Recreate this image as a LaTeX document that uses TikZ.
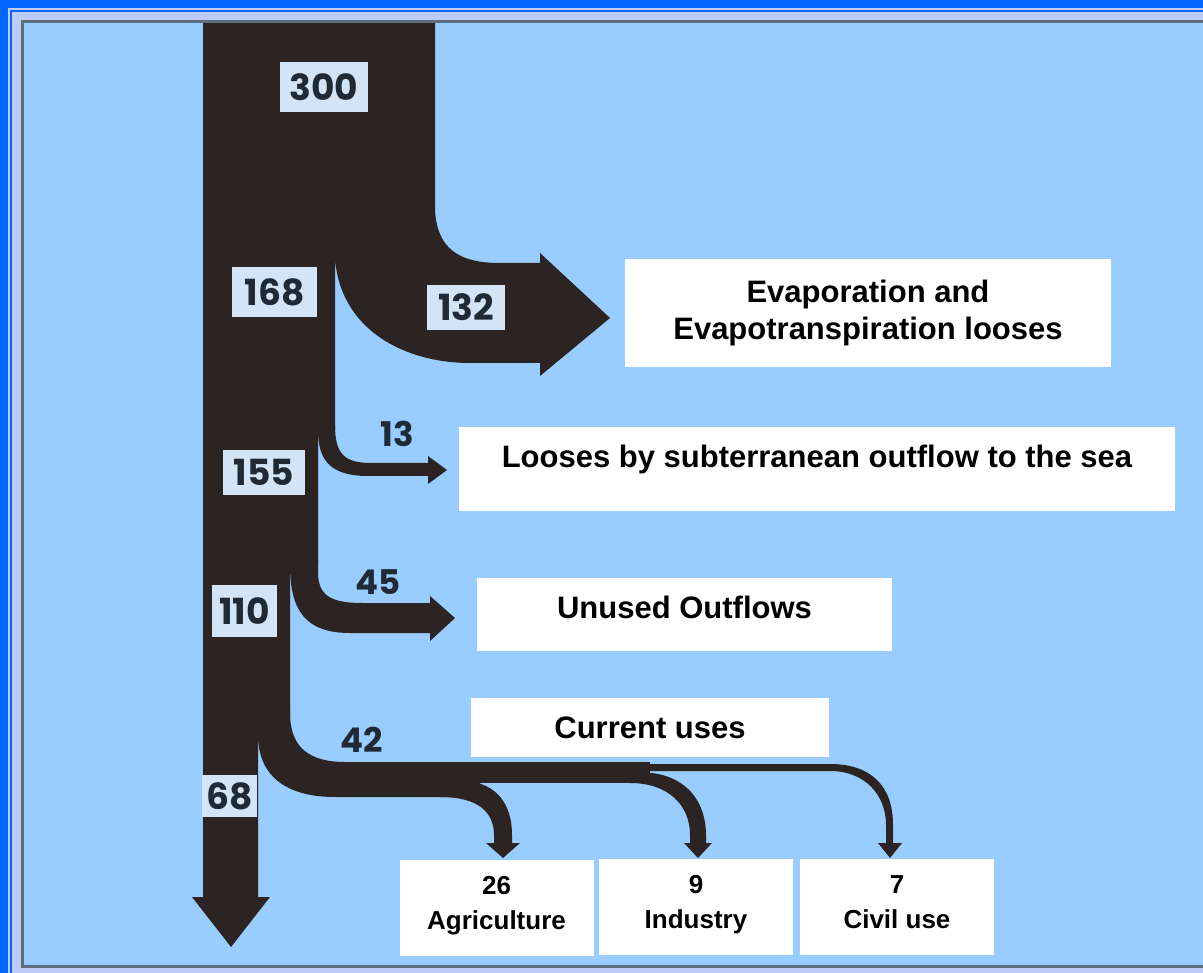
\documentclass[tikz,border=0pt]{standalone}
\usepackage{fontspec}
\setmainfont{Liberation Sans}
\newfontfamily\numfont{Poppins}
\definecolor{frameblue}{HTML}{0066FF}
\definecolor{framepale}{HTML}{BCCBF8}
\definecolor{bgblue}{HTML}{99CCFF}
\definecolor{rimgray}{HTML}{5E6E7E}
\definecolor{flowdark}{HTML}{2B2422}
\definecolor{numpale}{HTML}{D2E4F6}
\definecolor{numink}{HTML}{1F2A36}

\begin{document}
\begin{tikzpicture}[x=1pt, y=-1pt]
        % Define styles
        \tikzstyle{flow}=[fill=flowdark, draw=none]
        \tikzstyle{numbox}=[fill=numpale, inner sep=0pt, text=numink, font=\numfont\bfseries\fontsize{36}{40}\selectfont]
        \tikzstyle{numfree}=[inner sep=0pt, text=numink, font=\numfont\bfseries\fontsize{34}{40}\selectfont]
        \tikzstyle{whitebox}=[fill=white, inner sep=0pt, align=center, font=\bfseries\fontsize{31}{37}\selectfont]
        \tikzstyle{usebox}=[whitebox, minimum width=194pt, minimum height=96pt, font=\bfseries\fontsize{26}{35}\selectfont]

        % Frame and background
        \useasboundingbox (0,0) rectangle (1203,973);
        \fill[frameblue] (0,0) rectangle (1203,973);
        \fill[framepale] (8,8) rectangle (1203,973);
        \fill[frameblue] (10,10) rectangle (1203,973);
        \fill[framepale] (12,12) rectangle (1203,973);
        \fill[bgblue] (22,22) rectangle (1203,966);

        % Main stream with evaporation branch
        \fill[flow] (203,23) -- (435,23) -- (435,210)
            .. controls (437,248) and (458,263) .. (500,263) -- (540,263) -- (540,253)
            -- (610,318) -- (540,376) -- (540,363) -- (470,363)
            .. controls (405,363) and (340,330) .. (335,258)
            -- (335,430) -- (318,430) -- (318,565) -- (290,565) -- (290,737)
            -- (258,737) -- (258,897) -- (270,897) -- (231,947) -- (192,897) -- (203,897) -- cycle;

        % Subterranean outflow
        \fill[flow] (318,425) -- (335,425) .. controls (335,455) and (345,463) .. (372,463)
            -- (428,463) -- (428,456) -- (447,470) -- (428,484) -- (428,476) -- (368,476)
            .. controls (330,476) and (318,460) .. (318,430) -- cycle;

        % Unused outflows
        \fill[flow] (290,560) -- (318,560) -- (318,572) .. controls (318,595) and (330,603) .. (362,603)
            -- (430,603) -- (430,596) -- (455,618) -- (430,641) -- (430,633) -- (350,633)
            .. controls (305,633) and (290,610) .. (290,565) -- cycle;

        % Current uses
        \fill[flow] (258,705) -- (290,705) -- (290,713) .. controls (290,748) and (310,762) .. (345,762)
            -- (480,762) -- (480,797) -- (335,797) .. controls (285,797) and (258,775) .. (258,735) -- cycle;
        \fill[flow] (470,762) rectangle (650,783);
        \fill[flow] (430,790) -- (478,783) .. controls (502,790) and (512,810) .. (512,835)
            -- (512,843) -- (520,843) -- (503,858) -- (486,843) -- (494,843) -- (494,835)
            .. controls (494,812) and (478,797) .. (440,797) -- cycle;
        \fill[flow] (620,775) -- (652,773) .. controls (690,778) and (706,805) .. (706,835)
            -- (706,843) -- (712,843) -- (698,858) -- (684,843) -- (690,843) -- (690,835)
            .. controls (690,805) and (668,783) .. (630,783) -- cycle;
        \fill[flow] (640,764) -- (830,764) .. controls (870,764) and (893,785) .. (893,825)
            -- (893,843) -- (902,843) -- (890,858) -- (878,843) -- (886,843) -- (886,825)
            .. controls (886,795) and (865,771) .. (830,771) -- (640,771) -- cycle;

        % Rim line
        \draw[rimgray, line width=3pt] (1203,22) -- (22,22) -- (22,966) -- (1203,966);

        % Quantities
        \node[numbox, minimum width=88pt, minimum height=50pt] (n300) at (324,87) {300};
        \node[numbox, minimum width=85pt, minimum height=50pt] (n168) at (274.5,292) {168};
        \node[numbox, minimum width=78pt, minimum height=45pt] (n132) at (466,307.5) {132};
        \node[numbox, minimum width=82pt, minimum height=45pt] (n155) at (264,472.5) {155};
        \node[numbox, minimum width=65pt, minimum height=52pt] (n110) at (244.5,611) {110};
        \node[numbox, minimum width=55pt, minimum height=42pt] (n68) at (229.5,796) {68};
        \node[numfree] (n13) at (397,434) {13};
        \node[numfree] (n45) at (378,582) {45};
        \node[numfree] (n42) at (362,740) {42};

        % Destinations
        \node[whitebox, minimum width=486pt, minimum height=108pt] (evap) at (868,313) {Evaporation and\\Evapotranspiration looses};
        \node[whitebox, minimum width=716pt, minimum height=84pt, text depth=26pt] (sea) at (817,469) {Looses by subterranean outflow to the sea};
        \node[whitebox, minimum width=415pt, minimum height=73pt, text depth=15pt] (unused) at (684.5,614.5) {Unused Outflows};
        \node[whitebox, minimum width=358pt, minimum height=59pt] (uses) at (650,727.5) {Current uses};
        \node[usebox] (agri) at (496.5,908) {26\\Agriculture\strut};
        \node[usebox] (indus) at (696,907) {9\\Industry\strut};
        \node[usebox] (civil) at (897,907) {7\\Civil use\strut};
\end{tikzpicture}
\end{document}
